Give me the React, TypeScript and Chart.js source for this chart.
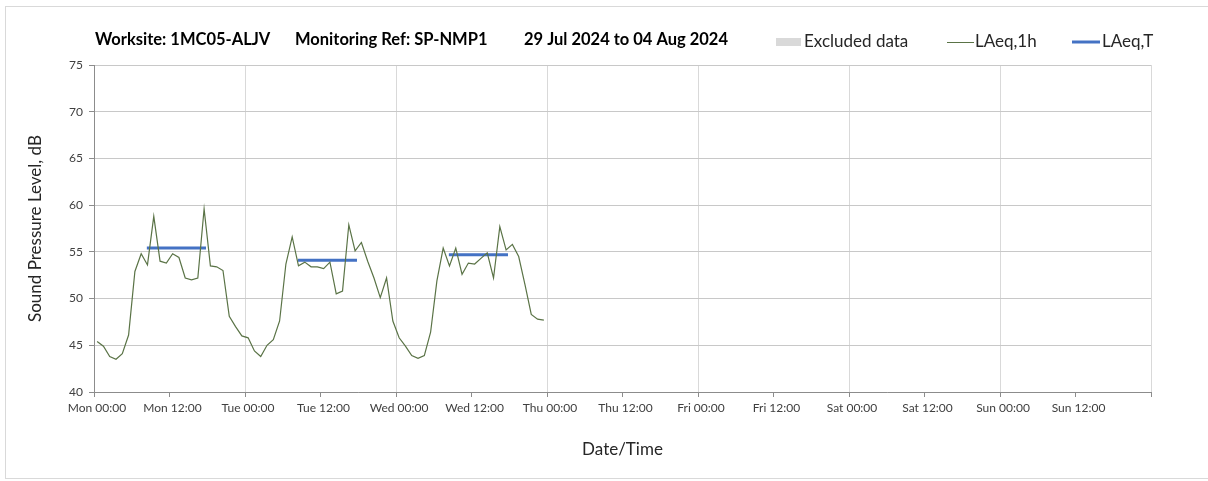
import React, { useEffect, useRef } from "react";
import { Chart, registerables } from "chart.js";

Chart.register(...registerables);

// ---- Data ----
const titleParts = ["Worksite: 1MC05-ALJV", "Monitoring Ref: SP-NMP1", "29 Jul 2024 to 04 Aug 2024"];
const xTickLabels = [
  "Mon 00:00", "Mon 12:00", "Tue 00:00", "Tue 12:00", "Wed 00:00", "Wed 12:00", "Thu 00:00",
  "Thu 12:00", "Fri 00:00", "Fri 12:00", "Sat 00:00", "Sat 12:00", "Sun 00:00", "Sun 12:00", "",
];
const hoursPerTick = 12;
const firstHour = 0.5; // LAeq,1h plotted at the middle of each hour
const laeq1h = [
  // Mon
  45.4, 44.9, 43.8, 43.5, 44.1, 46.1, 52.9, 54.8, 53.6, 58.8, 54.0, 53.8,
  54.8, 54.4, 52.2, 52.0, 52.2, 59.6, 53.5, 53.4, 53.0, 48.1, 47.0, 46.0,
  // Tue
  45.8, 44.4, 43.8, 45.0, 45.6, 47.6, 53.7, 56.6, 53.5, 53.9, 53.4, 53.4,
  53.2, 53.9, 50.5, 50.8, 57.9, 55.1, 56.0, 54.0, 52.2, 50.1, 52.2, 47.6,
  // Wed
  45.8, 44.9, 43.9, 43.6, 43.9, 46.4, 51.9, 55.4, 53.5, 55.4, 52.6, 53.8,
  53.7, 54.3, 54.9, 52.2, 57.7, 55.2, 55.8, 54.5, 51.5, 48.3, 47.8, 47.7,
];
const laeqTStart = [8.4, 32.4, 56.4];
const laeqTEnd = [17.8, 41.8, 65.8];
const laeqTValues = [55.4, 54.1, 54.7];
const excludedData: { x: number; y: number }[] = [];

const FONT = "Lato, 'Open Sans', sans-serif";

export default function App() {
  const ref = useRef<HTMLCanvasElement | null>(null);

  useEffect(() => {
    if (!ref.current) return;
    const lineData = laeq1h.map((v, i) => ({ x: firstHour + i, y: v }));
    const tData: { x: number; y: number | null }[] = [];
    laeqTValues.forEach((v, i) => {
      tData.push({ x: laeqTStart[i], y: v });
      tData.push({ x: laeqTEnd[i], y: v });
      tData.push({ x: laeqTEnd[i] + 1, y: null });
    });

    const decor = {
      id: "decor",
      afterDraw(chart: any) {
        const ctx = chart.ctx;
        ctx.save();
        // frame
        ctx.strokeStyle = "#d9d9d9";
        ctx.lineWidth = 1;
        ctx.strokeRect(5.5, 6.5, 1220, 472);
        // title
        ctx.fillStyle = "#000";
        ctx.font = `bold 16.5px ${FONT}`;
        ctx.textBaseline = "middle";
        ctx.textAlign = "left";
        const tx = [95, 295, 524];
        titleParts.forEach((t, i) => ctx.fillText(t, tx[i], 40));
        // legend
        const ds = chart.data.datasets;
        ctx.font = `17px ${FONT}`;
        // excluded
        ctx.fillStyle = ds[0].backgroundColor;
        ctx.fillRect(776, 38, 25, 8);
        ctx.fillStyle = "#262626";
        ctx.fillText(ds[0].label, 804, 42);
        // LAeq,1h
        ctx.strokeStyle = ds[1].borderColor;
        ctx.lineWidth = 1;
        ctx.beginPath();
        ctx.moveTo(947, 42.5);
        ctx.lineTo(974, 42.5);
        ctx.stroke();
        ctx.fillText(ds[1].label, 975, 42);
        // LAeq,T
        ctx.strokeStyle = ds[2].borderColor;
        ctx.lineWidth = 3;
        ctx.beginPath();
        ctx.moveTo(1072, 42);
        ctx.lineTo(1100, 42);
        ctx.stroke();
        ctx.fillText(ds[2].label, 1102, 42);
        ctx.restore();
      },
    };

    const chart = new Chart(ref.current, {
      type: "line",
      data: {
        datasets: [
          {
            label: "Excluded data",
            data: excludedData,
            backgroundColor: "#d9d9d9",
            borderColor: "#d9d9d9",
          },
          {
            label: "LAeq,1h",
            data: lineData,
            borderColor: "#5a7346",
            borderWidth: 1.2,
            pointRadius: 0,
            tension: 0,
          },
          {
            label: "LAeq,T",
            data: tData as any,
            borderColor: "#4472C4",
            borderWidth: 3,
            pointRadius: 0,
            spanGaps: false,
            borderCapStyle: "butt",
          },
        ],
      },
      options: {
        responsive: false,
        animation: false,
        devicePixelRatio: 1,
        layout: { padding: { left: 0, top: 65, right: 57, bottom: 0 } },
        plugins: { legend: { display: false }, tooltip: { enabled: false } },
        scales: {
          x: {
            type: "linear",
            min: 0,
            max: 168,
            afterFit: (s: any) => { s.height = 89; },
            afterBuildTicks: (s: any) => {
              s.ticks = xTickLabels.map((_, i) => ({ value: i * hoursPerTick }));
            },
            ticks: {
              stepSize: hoursPerTick,
              autoSkip: false,
              maxRotation: 0,
              padding: 4,
              labelOffset: 3,
              color: "#404040",
              font: { family: FONT, size: 12 },
              callback: (v: any) => xTickLabels[Math.round(Number(v) / hoursPerTick)] ?? "",
            },
            grid: {
              color: (c: any) => (c.tick && c.tick.value % 24 === 0 ? "#d9d9d9" : "rgba(0,0,0,0)"),
              tickColor: "#8c8c8c",
              tickLength: 5,
            },
            border: { color: "#8c8c8c", width: 1 },
            title: {
              display: true,
              text: "Date/Time",
              color: "#262626",
              font: { family: FONT, size: 17 },
              padding: { top: 0, bottom: 21 },
            },
          },
          y: {
            min: 40,
            max: 75,
            afterFit: (s: any) => { s.width = 94; },
            ticks: {
              stepSize: 5,
              padding: 6,
              color: "#404040",
              font: { family: FONT, size: 12 },
            },
            grid: { color: "#c8c8c8", tickColor: "#8c8c8c", tickLength: 5 },
            border: { color: "#8c8c8c", width: 1 },
            title: {
              display: true,
              text: "Sound Pressure Level, dB",
              color: "#262626",
              font: { family: FONT, size: 17 },
              padding: { top: 25, bottom: 0 },
            },
          },
        },
      },
      plugins: [decor],
    });
    return () => chart.destroy();
  }, []);

  return (
    <div style={{ position: "fixed", left: 0, top: 0, width: 1208, height: 481, background: "#fff" }}>
      <canvas ref={ref} width={1208} height={481} />
    </div>
  );
}
